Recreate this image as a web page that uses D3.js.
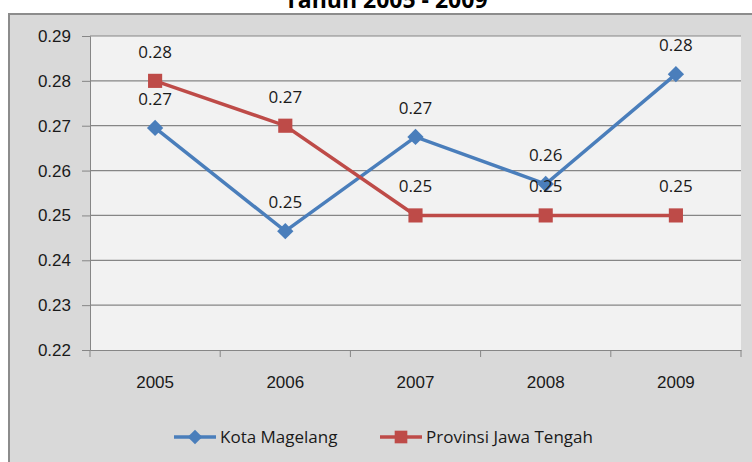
<!DOCTYPE html>
<html>
<head>
<meta charset="utf-8">
<script src="https://cdn.jsdelivr.net/npm/d3@7"></script>
<style>
  body { margin: 0; background: #fff; }
  svg { display: block; font-family: "Open Sans", sans-serif; }
</style>
</head>
<body>
<script>
const w = 752;
const h = 462;

const years = ['2005', '2006', '2007', '2008', '2009'];
const kotaMagelang = [0.2695, 0.2465, 0.2675, 0.2570, 0.2815];
const kotaLabels = ['0.27', '0.25', '0.27', '0.26', '0.28'];
const jawaTengah = [0.28, 0.27, 0.25, 0.25, 0.25];
const jawaLabels = ['0.28', '0.27', '0.25', '0.25', '0.25'];
const yTicks = [0.22, 0.23, 0.24, 0.25, 0.26, 0.27, 0.28, 0.29];

const plot = {left: 90, right: 741, top: 36, bottom: 350};

let svg = d3.select('body').append('svg')
  .attr('width', w)
  .attr('height', h);

// outer chart area
svg.append('rect')
  .attr('x', 9).attr('y', 14)
  .attr('width', w + 10).attr('height', h)
  .attr('fill', '#d9d9d9')
  .attr('stroke', '#8c8c8c')
  .attr('stroke-width', 2);

// title (cut off at the top, as in the original)
svg.append('text')
  .attr('x', 386).attr('y', 8)
  .attr('text-anchor', 'middle')
  .attr('font-size', 23)
  .attr('font-weight', 'bold')
  .attr('fill', '#000')
  .text('Tahun 2005 - 2009');

const x = d3.scaleBand().domain(years).range([plot.left, plot.right]);
const y = d3.scaleLinear().domain([0.22, 0.29]).range([plot.bottom, plot.top]);

svg.append('rect')
  .attr('x', plot.left).attr('y', plot.top)
  .attr('width', plot.right - plot.left).attr('height', plot.bottom - plot.top)
  .attr('fill', '#f2f2f2');

// y axis with gridlines
const yAxis = svg.append('g')
  .attr('transform', `translate(${plot.left},0)`)
  .call(d3.axisLeft(y).tickValues(yTicks).tickFormat(d3.format('.2f'))
    .tickSize(8).tickPadding(11));
yAxis.select('.domain').attr('stroke', '#868686');
yAxis.selectAll('.tick line').attr('stroke', '#868686');
yAxis.selectAll('.tick text').attr('font-size', 17).attr('fill', '#1a1a1a');

svg.append('g').selectAll('line')
  .data(yTicks.slice(1))
  .enter().append('line')
  .attr('x1', plot.left).attr('x2', plot.right)
  .attr('y1', d => y(d)).attr('y2', d => y(d))
  .attr('stroke', '#868686').attr('stroke-width', 1.2);

// x axis: ticks at band boundaries
const xAxis = svg.append('g')
  .attr('transform', `translate(0,${plot.bottom})`)
  .call(d3.axisBottom(x).tickSize(0).tickPadding(26));
xAxis.select('.domain').attr('stroke', '#868686');
xAxis.selectAll('.tick text').attr('font-size', 17).attr('fill', '#1a1a1a');
svg.append('g').selectAll('line')
  .data(years.map(d => x(d)).concat([plot.right]))
  .enter().append('line')
  .attr('x1', d => d).attr('x2', d => d)
  .attr('y1', plot.bottom).attr('y2', plot.bottom + 7)
  .attr('stroke', '#868686');

const series = [
  {name: 'Kota Magelang', values: kotaMagelang, labels: kotaLabels, color: '#4a7ebb', shape: d3.symbolDiamond2, size: 170},
  {name: 'Provinsi Jawa Tengah', values: jawaTengah, labels: jawaLabels, color: '#be4b48', shape: d3.symbolSquare, size: 200}
];

const cx = d => x(d) + x.bandwidth() / 2;
const line = d3.line()
  .x((d, i) => cx(years[i]))
  .y(d => y(d));

series.forEach(s => {
  svg.append('path')
    .datum(s.values)
    .attr('d', line)
    .attr('fill', 'none')
    .attr('stroke', s.color)
    .attr('stroke-width', 3.5);
  svg.append('g').selectAll('path')
    .data(s.values)
    .enter().append('path')
    .attr('d', d3.symbol().type(s.shape).size(s.size))
    .attr('transform', (d, i) => `translate(${cx(years[i])},${y(d)})`)
    .attr('fill', s.color);
});

series.forEach(s => {
  svg.append('g').selectAll('text')
    .data(s.values)
    .enter().append('text')
    .attr('x', (d, i) => cx(years[i]))
    .attr('y', d => y(d) - 23)
    .attr('text-anchor', 'middle')
    .attr('font-size', 17)
    .attr('fill', '#1a1a1a')
    .text((d, i) => s.labels[i]);
});

// legend
const legendX = [174, 380];
series.forEach((s, i) => {
  const g = svg.append('g').attr('transform', `translate(${legendX[i]},437)`);
  g.append('line').attr('x1', 0).attr('x2', 42)
    .attr('stroke', s.color).attr('stroke-width', 3.5);
  g.append('path')
    .attr('d', d3.symbol().type(s.shape).size(s.size * 0.8))
    .attr('transform', 'translate(21,0)')
    .attr('fill', s.color);
  g.append('text').attr('x', 46).attr('y', 6)
    .attr('font-size', 17).attr('fill', '#1a1a1a')
    .text(s.name);
});
</script>
</body>
</html>
